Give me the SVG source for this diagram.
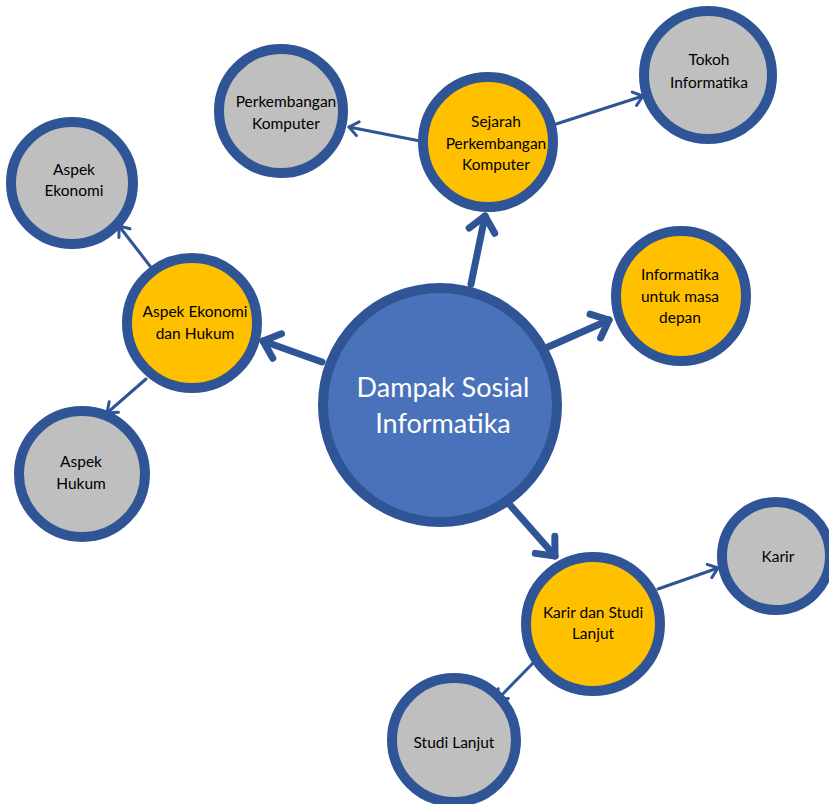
<svg xmlns="http://www.w3.org/2000/svg" width="829" height="804" viewBox="0 0 829 804">
<style>
.ring{stroke:#2F5597;stroke-width:10}
.gray{fill:#BFBFBF}
.orange{fill:#FFC000}
.center{fill:#4A72BA}
.t{font-family:Lato,"Liberation Sans",sans-serif;font-size:15.5px;fill:#000;text-anchor:middle}
.tc{font-family:Lato,"Liberation Sans",sans-serif;font-size:27px;fill:#fff;text-anchor:middle}
.thick{stroke:#2F5597;stroke-width:7;stroke-linecap:round;fill:none}
.thin{stroke:#2F5597;stroke-width:3;stroke-linecap:round;fill:none}
</style>
<defs>
<marker id="ah" markerUnits="userSpaceOnUse" viewBox="-22 -16 26 32" refX="0" refY="0" markerWidth="26" markerHeight="32" orient="auto" overflow="visible">
<path d="M-15,-13 L0,0 L-15,13" fill="none" stroke="#2F5597" stroke-width="7" stroke-linecap="round" stroke-linejoin="round"/>
</marker>
<marker id="as" markerUnits="userSpaceOnUse" viewBox="-14 -10 16 20" refX="0" refY="0" markerWidth="16" markerHeight="20" orient="auto" overflow="visible">
<path d="M-9,-7 L0,0 L-9,7" fill="none" stroke="#2F5597" stroke-width="3" stroke-linecap="round" stroke-linejoin="round"/>
</marker>
</defs>
<g id="connectors">
<line class="thick" x1="471" y1="284" x2="485" y2="216" marker-end="url(#ah)"/>
<line class="thick" x1="322" y1="362" x2="263" y2="341" marker-end="url(#ah)"/>
<line class="thick" x1="548" y1="347" x2="609" y2="320" marker-end="url(#ah)"/>
<line class="thick" x1="510" y1="505" x2="555" y2="556" marker-end="url(#ah)"/>
<line class="thin" x1="420" y1="141" x2="349" y2="127" marker-end="url(#as)"/>
<line class="thin" x1="553" y1="125" x2="643" y2="96" marker-end="url(#as)"/>
<line class="thin" x1="150" y1="266" x2="119" y2="226" marker-end="url(#as)"/>
<line class="thin" x1="146" y1="379" x2="107" y2="413" marker-end="url(#as)"/>
<line class="thin" x1="658" y1="589" x2="718" y2="568" marker-end="url(#as)"/>
<line class="thin" x1="535" y1="661" x2="497" y2="700" marker-end="url(#as)"/>
</g>
<g id="n-center">
<circle class="ring center" cx="440" cy="405" r="117"/>
<text class="tc" x="443" y="397">Dampak Sosial</text>
<text class="tc" x="443" y="433">Informatika</text>
</g>
<g id="n-sejarah">
<circle class="ring orange" cx="488" cy="142" r="65"/>
<text class="t" x="496" y="127">Sejarah</text>
<text class="t" x="496" y="149">Perkembangan</text>
<text class="t" x="496" y="170">Komputer</text>
</g>
<g id="n-perkembangan">
<circle class="ring gray" cx="281" cy="111" r="62"/>
<text class="t" x="286" y="107">Perkembangan</text>
<text class="t" x="286" y="129">Komputer</text>
</g>
<g id="n-tokoh">
<circle class="ring gray" cx="708" cy="75" r="64"/>
<text class="t" x="709" y="65">Tokoh</text>
<text class="t" x="709" y="88">Informatika</text>
</g>
<g id="n-aspek-eh">
<circle class="ring orange" cx="192" cy="323" r="65"/>
<text class="t" x="195" y="317">Aspek Ekonomi</text>
<text class="t" x="195" y="339">dan Hukum</text>
</g>
<g id="n-aspek-ekonomi">
<circle class="ring gray" cx="72" cy="183" r="61"/>
<text class="t" x="74" y="175">Aspek</text>
<text class="t" x="74" y="196">Ekonomi</text>
</g>
<g id="n-aspek-hukum">
<circle class="ring gray" cx="82" cy="474" r="63"/>
<text class="t" x="81" y="467">Aspek</text>
<text class="t" x="81" y="489">Hukum</text>
</g>
<g id="n-informatika">
<circle class="ring orange" cx="681" cy="296" r="65"/>
<text class="t" x="680" y="280">Informatika</text>
<text class="t" x="680" y="302">untuk masa</text>
<text class="t" x="680" y="323">depan</text>
</g>
<g id="n-karir-studi">
<circle class="ring orange" cx="593" cy="624" r="67"/>
<text class="t" x="593" y="618">Karir dan Studi</text>
<text class="t" x="593" y="639">Lanjut</text>
</g>
<g id="n-karir">
<circle class="ring gray" cx="776" cy="556" r="54"/>
<text class="t" x="778" y="562">Karir</text>
</g>
<g id="n-studi">
<circle class="ring gray" cx="454" cy="740" r="62"/>
<text class="t" x="454" y="748">Studi Lanjut</text>
</g>
</svg>
